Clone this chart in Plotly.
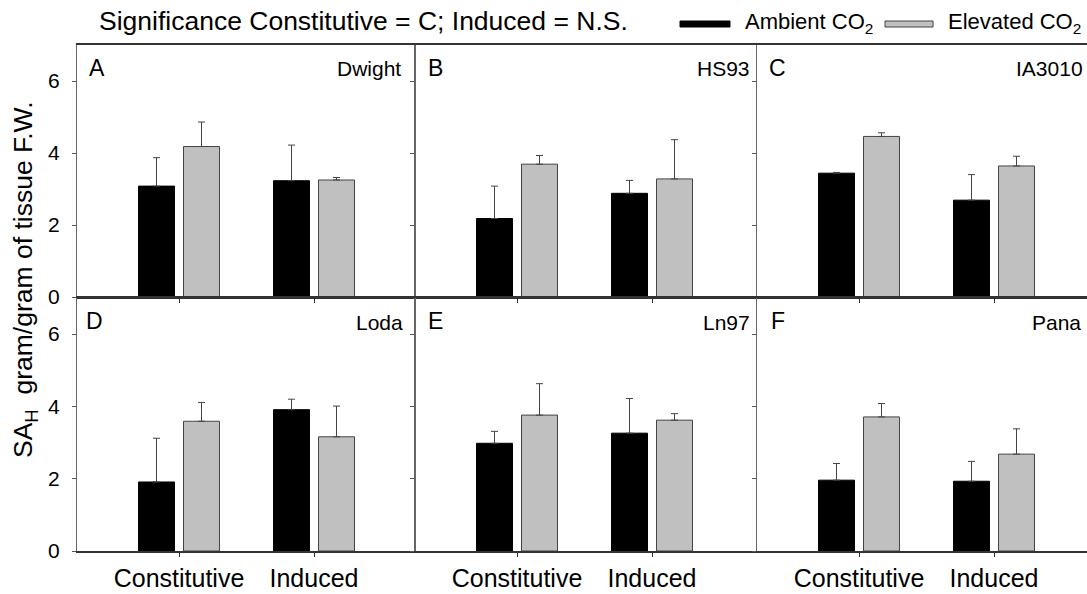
import plotly.graph_objects as go

# ---------------- data ----------------
categories = ["Constitutive", "Induced"]
panel_letters = ["A", "B", "C", "D", "E", "F"]
cultivars = ["Dwight", "HS93", "IA3010", "Loda", "Ln97", "Pana"]

ambient_means = [[3.08, 3.23], [2.18, 2.88], [3.44, 2.69],
                 [1.91, 3.91], [2.98, 3.26], [1.96, 1.93]]
ambient_errors = [[0.79, 0.99], [0.90, 0.36], [0.02, 0.71],
                  [1.21, 0.29], [0.33, 0.96], [0.46, 0.55]]
elevated_means = [[4.18, 3.25], [3.69, 3.28], [4.46, 3.64],
                  [3.59, 3.16], [3.76, 3.62], [3.71, 2.68]]
elevated_errors = [[0.68, 0.07], [0.24, 1.09], [0.10, 0.27],
                   [0.52, 0.85], [0.87, 0.18], [0.37, 0.70]]
y_ticks = [0, 2, 4, 6]

title_text = "Significance Constitutive = C; Induced = N.S."
legend_labels = ["Ambient CO<sub>2</sub>", "Elevated CO<sub>2</sub>"]
y_title = "SA<sub>H</sub>  gram/gram of tissue F.W."

# ---------------- layout helpers ----------------
W, H = 1087, 594
FONT = "Liberation Sans, Arial, sans-serif"


def px(x):
    return x / W


def py(y):
    return 1 - y / H


col_edges = [(77, 415), (415, 756), (757, 1087)]
row_edges = [(45, 297), (298, 551)]
letter_x = [87, 426, 767, 84, 426, 769]
name_right = [403, 752, 1085, 405, 752, 1083]

fig = go.Figure()
layout_axes = {}
annotations = []
extra_axis = 7

for i in range(6):
    r, c = divmod(i, 3)
    idx = i + 1
    xa = "x" if idx == 1 else f"x{idx}"
    ya = "y" if idx == 1 else f"y{idx}"
    xk = "xaxis" if idx == 1 else f"xaxis{idx}"
    yk = "yaxis" if idx == 1 else f"yaxis{idx}"

    fig.add_trace(go.Bar(
        x=categories, y=ambient_means[i], xaxis=xa, yaxis=ya,
        offsetgroup="amb", showlegend=False,
        marker=dict(color="black", line=dict(color="black", width=1)),
        error_y=dict(type="data", symmetric=False, array=ambient_errors[i],
                     arrayminus=[0] * len(categories), color="#444",
                     thickness=1, width=3.5),
    ))
    fig.add_trace(go.Bar(
        x=categories, y=elevated_means[i], xaxis=xa, yaxis=ya,
        offsetgroup="elev", showlegend=False,
        marker=dict(color="#c0c0c0", line=dict(color="#444", width=1)),
        error_y=dict(type="data", symmetric=False, array=elevated_errors[i],
                     arrayminus=[0] * len(categories), color="#444",
                     thickness=1, width=3.5),
    ))

    x0, x1 = col_edges[c]
    y0, y1 = row_edges[r]
    width_px = x1 - x0
    # category spacing of 135 px, first category 102 px from left edge
    xr = [-102 / 135, -102 / 135 + width_px / 135]
    last_col = c == 2

    layout_axes[xk] = dict(
        domain=[px(x0), px(x1)], anchor=ya, type="category",
        range=xr, showgrid=False, zeroline=False,
        showline=True, linecolor="#333", linewidth=1.5, mirror=True,
        ticks="outside", ticklen=4, tickcolor="#333",
        showticklabels=(r == 1), automargin=False,
        tickfont=dict(family=FONT, size=25, color="black"),
    )
    layout_axes[yk] = dict(
        domain=[py(y1), py(y0)], anchor=xa, range=[0, 7],
        tickvals=y_ticks,
        showgrid=False, zeroline=False,
        showline=True, linecolor="#666", linewidth=1,
        mirror=(not last_col),
        ticks="outside", ticklen=4, tickcolor="#555",
        showticklabels=False, automargin=False,
    )
    if c == 0:
        # label-only axis over the left column, labels pushed off the spine
        ey = f"y{extra_axis}"
        layout_axes[f"yaxis{extra_axis}"] = dict(
            overlaying=ya, anchor="free", position=px(x0), side="left",
            range=[0, 7], tickvals=y_ticks,
            showgrid=False, zeroline=False, showline=False,
            ticks="outside", ticklen=13, tickcolor="rgba(0,0,0,0)",
            showticklabels=True, automargin=False,
            tickfont=dict(family=FONT, size=21, color="black"),
        )
        # empty carrier trace so the label axis is drawn
        fig.add_trace(go.Scatter(x=[], y=[], xaxis=xa, yaxis=ey,
                                 mode="markers", showlegend=False,
                                 hoverinfo="skip"))
        extra_axis += 1

    cy = y0 + 23
    annotations.append(dict(
        text=panel_letters[i], xref="paper", yref="paper",
        x=px(letter_x[i]), y=py(cy), xanchor="left", yanchor="middle",
        showarrow=False, font=dict(family=FONT, size=23, color="black"),
    ))
    annotations.append(dict(
        text=cultivars[i], xref="paper", yref="paper",
        x=px(name_right[i]), y=py(cy + 1), xanchor="right", yanchor="middle",
        showarrow=False, font=dict(family=FONT, size=21, color="black"),
    ))

# title
annotations.append(dict(
    text=title_text, xref="paper", yref="paper", x=px(363), y=py(21),
    xanchor="center", yanchor="middle", showarrow=False,
    font=dict(family=FONT, size=26.5, color="black"),
))
# y-axis title
annotations.append(dict(
    text=y_title, xref="paper", yref="paper", x=px(25), y=py(280),
    xanchor="center", yanchor="middle", textangle=-90, showarrow=False,
    font=dict(family=FONT, size=26.5, color="black"),
))
# legend text
annotations.append(dict(
    text=legend_labels[0], xref="paper", yref="paper", x=px(743), y=py(23),
    xanchor="left", yanchor="middle", showarrow=False,
    font=dict(family=FONT, size=22, color="black"),
))
annotations.append(dict(
    text=legend_labels[1], xref="paper", yref="paper", x=px(946), y=py(23),
    xanchor="left", yanchor="middle", showarrow=False,
    font=dict(family=FONT, size=22, color="black"),
))

shapes = [
    dict(type="rect", xref="paper", yref="paper",
         x0=px(680), x1=px(730), y0=py(27), y1=py(21),
         fillcolor="black", line=dict(color="black", width=1)),
    dict(type="rect", xref="paper", yref="paper",
         x0=px(885), x1=px(933), y0=py(27), y1=py(21),
         fillcolor="#c0c0c0", line=dict(color="#444", width=1)),
]

fig.update_layout(
    width=W, height=H,
    margin=dict(l=0, r=0, t=0, b=0),
    paper_bgcolor="white", plot_bgcolor="white",
    barmode="group", bargap=1 / 3, bargroupgap=0.2,
    showlegend=False,
    annotations=annotations, shapes=shapes,
    font=dict(family=FONT, color="black"),
    **layout_axes,
)

fig.write_html("out.html")
